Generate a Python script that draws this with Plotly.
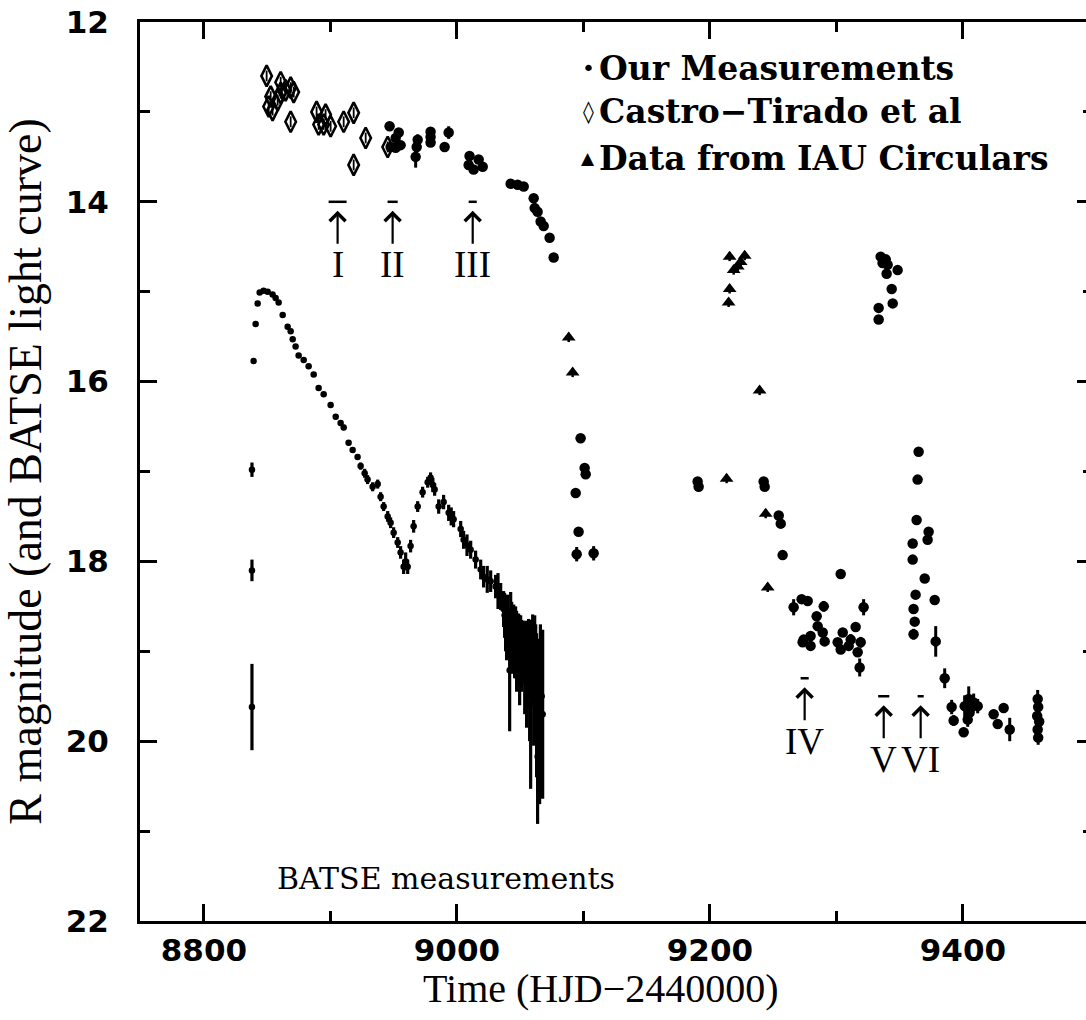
import plotly.graph_objects as go

# ---------------- data ----------------
# Castro-Tirado et al (open diamonds)
castro_t = [8849.6, 8852.8, 8851.2, 8854.3, 8860.7, 8860.7, 8864.6, 8868.6, 8871.0, 8858.3,
            8868.6, 8889.1, 8890.7, 8896.2, 8894.7, 8900.2, 8910.5, 8918.4, 8927.9, 8918.4, 8945.3]
castro_m = [12.60, 12.83, 12.94, 12.98, 12.67, 12.79, 12.76, 12.73, 12.78, 12.87,
            13.11, 13.00, 13.14, 13.03, 13.14, 13.16, 13.11, 13.01, 13.29, 13.59, 13.39]
castro_err = [0.06] * len(castro_t)

# Our measurements (filled circles)
ours_t = [8946.8, 8954.0, 8951.6, 8947.6, 8951.6, 8955.5, 8969.0, 8968.2, 8967.4, 8979.2,
          8979.2, 8979.2, 8993.5, 8990.3, 9010.0, 9009.3, 9013.2, 9017.2, 9020.4, 9042.5,
          9048.0, 9052.8, 9060.7, 9061.5, 9063.8, 9066.2, 9068.6, 9073.3, 9076.5, 9097.8,
          9101.0, 9101.8, 9093.9, 9096.2, 9094.7, 9108.1,
          9190.3, 9191.1, 9242.5, 9243.3, 9254.4, 9256.0, 9257.5, 9303.4,
          9266.2, 9272.5, 9277.3, 9290.0, 9284.4, 9285.2, 9289.2, 9274.1, 9279.6, 9273.3,
          9279.6, 9290.7, 9305.0, 9315.2, 9301.0, 9303.4, 9311.3, 9309.7, 9316.8, 9319.2,
          9318.4, 9321.5,
          9335.0, 9339.0, 9336.5, 9340.5, 9348.4, 9339.7, 9343.7, 9344.5, 9333.4, 9333.4,
          9365.0, 9364.2, 9363.4, 9372.9, 9372.1, 9360.3, 9360.3, 9369.8, 9362.6, 9377.7,
          9361.0, 9361.9, 9361.0, 9378.5,
          9385.6, 9391.1, 9392.7, 9400.6, 9401.4, 9404.6, 9406.9, 9408.5, 9411.7, 9405.3,
          9403.8, 9424.3, 9432.2, 9427.5, 9437.0, 9459.1, 9459.5, 9458.7, 9460.3, 9459.1,
          9459.5]
ours_m = [13.16, 13.23, 13.29, 13.39, 13.40, 13.37, 13.31, 13.39, 13.50, 13.22,
          13.28, 13.34, 13.23, 13.39, 13.49, 13.59, 13.64, 13.53, 13.61, 13.80,
          13.81, 13.83, 13.96, 14.07, 14.11, 14.22, 14.27, 14.40, 14.62, 16.63,
          16.96, 17.03, 17.24, 17.67, 17.92, 17.91,
          17.11, 17.17, 17.11, 17.17, 17.49, 17.58, 17.93, 18.14,
          18.51, 18.42, 18.44, 18.50, 18.61, 18.72, 18.79, 18.87, 18.83, 18.90,
          18.94, 18.89, 18.79, 18.73, 18.90, 18.98, 18.87, 18.94, 19.01, 18.90,
          19.18, 18.51,
          14.61, 14.64, 14.68, 14.70, 14.76, 14.80, 14.97, 15.13, 15.18, 15.31,
          16.78, 17.09, 17.54, 17.67, 17.76, 17.80, 17.98, 18.19, 18.37, 18.43,
          18.53, 18.67, 18.81, 18.89,
          19.30, 19.62, 19.77, 19.90, 19.61, 19.53, 19.61, 19.57, 19.61, 19.68,
          19.76, 19.70, 19.63, 19.81, 19.87, 19.53, 19.62, 19.72, 19.78, 19.87,
          19.96]
ours_err = [0, 0, 0, 0, 0, 0, 0.06, 0, 0.12, 0,
            0, 0, 0.07, 0, 0, 0, 0, 0, 0, 0,
            0, 0, 0, 0, 0, 0, 0, 0, 0, 0,
            0, 0, 0, 0, 0.08, 0.08,
            0, 0, 0, 0, 0, 0, 0, 0,
            0.09, 0, 0, 0.06, 0, 0, 0, 0, 0, 0,
            0, 0, 0, 0, 0, 0, 0.06, 0, 0, 0.06,
            0.10, 0.09,
            0, 0, 0, 0, 0, 0, 0, 0, 0, 0,
            0, 0, 0, 0, 0, 0, 0, 0, 0.05, 0,
            0, 0, 0.06, 0.17,
            0.11, 0.08, 0.06, 0.05, 0.12, 0.14, 0.10, 0.10, 0.08, 0.10,
            0.08, 0.05, 0.05, 0.05, 0.13, 0.10, 0.10, 0.12, 0.10, 0.10,
            0.08]

# Data from IAU Circulars (filled triangles)
iau_t = [9088.4, 9091.5, 9215.6, 9227.5, 9222.0, 9218.8, 9224.3, 9215.6, 9214.8, 9239.3,
         9213.2, 9244.1, 9245.7]
iau_m = [15.51, 15.90, 14.61, 14.60, 14.72, 14.76, 14.67, 14.97, 15.12, 16.10,
         17.08, 17.47, 18.29]

# BATSE light curve
batse_t = [8838.0, 8838.0, 8838.0,
           8839.3, 8840.9, 8842.5, 8844.1, 8847.2, 8850.4, 8854.3, 8856.7, 8859.1, 8862.3,
           8866.2, 8868.6, 8870.2, 8872.5, 8874.9, 8878.9, 8882.8, 8886.8, 8890.7, 8894.7,
           8900.2, 8904.2, 8908.1, 8910.5, 8914.4, 8917.6, 8921.5, 8923.9, 8927.1, 8929.4,
           8933.4, 8937.4, 8939.7, 8942.1, 8945.3, 8947.6, 8950.0, 8953.2, 8955.5, 8957.9,
           8961.1, 8963.4, 8965.8, 8969.0, 8972.9, 8976.9, 8979.2, 8982.4, 8985.6, 8989.5,
           8993.5, 8997.4, 9003.0, 9005.3, 9010.9, 9014.8, 9018.8, 9021.1, 9026.7, 9030.6,
           9034.6, 9036.9, 9038.5, 9040.1, 9041.7, 9042.5, 9043.3, 9044.9, 9046.4, 9047.2,
           9048.8, 9049.6, 9051.2, 9052.0, 9053.6, 9054.3, 9055.1, 9056.7, 9057.5, 9058.3,
           9059.9, 9060.7, 9062.3, 9063.0, 9063.8, 9064.7, 9065.4, 9066.2, 9067.0, 9067.8,
           8959.5, 8981.0, 8995.5, 9008.0, 9024.0, 9032.5, 9037.7, 9039.3, 9045.6, 9050.4,
           9061.5, 9066.0]
batse_m = [16.98, 18.10, 19.62,
           15.77, 15.36, 15.13, 15.01, 14.99, 15.00, 15.03, 15.07, 15.12, 15.26,
           15.39, 15.44, 15.53, 15.61, 15.71, 15.76, 15.83, 15.92, 16.07, 16.14,
           16.26, 16.39, 16.46, 16.51, 16.68, 16.76, 16.84, 16.94, 17.02, 17.09,
           17.17, 17.14, 17.28, 17.39, 17.50, 17.57, 17.68, 17.79, 17.90, 18.06,
           18.06, 17.83, 17.61, 17.39, 17.23, 17.12, 17.07, 17.20, 17.39, 17.34,
           17.46, 17.53, 17.64, 17.76, 17.87, 17.98, 18.09, 18.17, 18.22, 18.28,
           18.39, 18.53, 18.70, 18.72, 19.21, 18.64, 18.85, 18.83, 18.90, 19.00,
           18.98, 19.10, 19.05, 19.01, 19.20, 19.06, 19.30, 19.09, 19.40, 19.59,
           19.09, 19.35, 19.20, 19.60, 20.17, 19.46, 19.80, 19.83, 19.50, 19.70,
           18.00, 17.15, 17.50, 17.82, 18.20, 18.33, 18.60, 18.80, 19.00, 18.95,
           19.00, 19.20]
batse_err = [0.08, 0.12, 0.48,
             0.02, 0.02, 0.02, 0.02, 0.02, 0.02, 0.02, 0.02, 0.02, 0.02,
             0.02, 0.02, 0.02, 0.02, 0.02, 0.02, 0.02, 0.02, 0.02, 0.02,
             0.03, 0.03, 0.03, 0.03, 0.03, 0.03, 0.03, 0.04, 0.05, 0.05,
             0.05, 0.05, 0.05, 0.05, 0.06, 0.06, 0.06, 0.06, 0.07, 0.08,
             0.08, 0.07, 0.07, 0.06, 0.06, 0.06, 0.06, 0.07, 0.08, 0.08,
             0.09, 0.09, 0.09, 0.10, 0.10, 0.10, 0.11, 0.12, 0.12, 0.13,
             0.15, 0.20, 0.30, 0.35, 0.68, 0.30, 0.40, 0.35, 0.40, 0.45,
             0.40, 0.50, 0.40, 0.35, 0.50, 0.40, 0.55, 0.45, 0.60, 0.94,
             0.50, 0.70, 0.50, 0.80, 0.75, 0.60, 0.90, 0.80, 0.60, 0.94,
             0.10, 0.08, 0.10, 0.12, 0.15, 0.20, 0.25, 0.30, 0.30, 0.35,
             0.40, 0.50]

# Marked epochs
epoch_label = ["I", "II", "III", "IV", "V", "VI"]
epoch_t = [8905.7, 8949.2, 9012.5, 9274.9, 9337.4, 9366.6]
epoch_half = [7.1, 4.0, 3.2, 3.2, 4.4, 2.4]
epoch_m = [14.0, 14.0, 14.0, 19.3, 19.5, 19.5]

legend_symbols = ["•", "◊", "▲"]
legend_labels = ["Our Measurements", "Castro−Tirado et al", "Data from IAU Circulars"]

# ---------------- figure ----------------
BLACK = "black"
fig = go.Figure()

fig.add_trace(go.Scatter(
    x=batse_t, y=batse_m, mode="markers", name="BATSE",
    marker=dict(size=6.5, color=BLACK),
    error_y=dict(type="data", array=batse_err, color=BLACK, thickness=3.2, width=0),
    showlegend=False))

fig.add_trace(go.Scatter(
    x=castro_t, y=castro_m, mode="markers", name="Castro−Tirado et al",
    marker=dict(symbol="diamond-tall-open", size=15, color=BLACK, line=dict(width=2.6, color=BLACK)),
    error_y=dict(type="data", array=castro_err, color=BLACK, thickness=1.8, width=0),
    showlegend=False))

fig.add_trace(go.Scatter(
    x=ours_t, y=ours_m, mode="markers", name="Our Measurements",
    marker=dict(symbol="circle", size=10.5, color=BLACK),
    error_y=dict(type="data", array=ours_err, color=BLACK, thickness=3, width=0),
    showlegend=False))

fig.add_trace(go.Scatter(
    x=iau_t, y=iau_m, mode="markers", name="Data from IAU Circulars",
    marker=dict(symbol="triangle-up", size=12, color=BLACK),
    error_y=dict(type="data", array=[0.05] * len(iau_t), color=BLACK, thickness=2.5, width=0),
    showlegend=False))

# epoch dashes
fig.add_trace(go.Scatter(
    x=epoch_t, y=epoch_m, mode="markers",
    marker=dict(size=1, color="rgba(0,0,0,0)"),
    error_x=dict(type="data", array=epoch_half, color=BLACK, thickness=2.5, width=0),
    showlegend=False, hoverinfo="skip"))

# right-hand axis ticks
fig.add_trace(go.Scatter(x=[], y=[], yaxis="y2", showlegend=False, hoverinfo="skip"))

for lab, t, m in zip(epoch_label, epoch_t, epoch_m):
    fig.add_annotation(
        x=t, y=m + 0.1, xref="x", yref="y",
        ax=t, ay=m + 0.7, axref="x", ayref="y",
        text=lab, showarrow=True, arrowhead=4, arrowsize=1.4, arrowwidth=2.2,
        arrowcolor=BLACK, borderpad=0,
        font=dict(family="Liberation Serif", size=37, color=BLACK))

# legend built from text
rows_y = [0.9488, 0.8999, 0.8487]
sym_size = [22, 22, 17]
for sym, lab, yy, ss in zip(legend_symbols, legend_labels, rows_y, sym_size):
    fig.add_annotation(x=0.4736, y=yy, xref="paper", yref="paper", text=sym,
                       showarrow=False, xanchor="center", yanchor="middle",
                       font=dict(family="DejaVu Sans", size=ss, color=BLACK))
    fig.add_annotation(x=0.4830, y=yy, xref="paper", yref="paper", text=lab,
                       showarrow=False, xanchor="left", yanchor="middle",
                       font=dict(family="DejaVu Serif", size=33, color=BLACK, weight="bold"))

fig.add_annotation(x=8991.0, y=21.53, xref="x", yref="y", text="BATSE measurements",
                   showarrow=False, xanchor="center", yanchor="middle",
                   font=dict(family="DejaVu Serif", size=30, color=BLACK))

# x-axis title placed to match the original's position
fig.add_annotation(x=0.487, y=-0.075, xref="paper", yref="paper", text="Time (HJD−2440000)",
                   showarrow=False, xanchor="center", yanchor="middle",
                   font=dict(family="Liberation Serif", size=40, color=BLACK))

axis_common = dict(showgrid=False, zeroline=False, showline=True, linecolor=BLACK,
                   linewidth=3, ticks="inside", tickcolor=BLACK, tickwidth=2.5, ticklen=17,
                   tickfont=dict(family="DejaVu Sans", size=31, color=BLACK, weight="bold"))

fig.update_layout(
    width=1086, height=1020,
    margin=dict(l=140, r=0, t=22, b=99),
    paper_bgcolor="white", plot_bgcolor="white",
    xaxis=dict(range=[8749.5, 9497.3], dtick=200, tick0=8800, mirror="ticks",
               minor=dict(dtick=100, ticks="inside", ticklen=10, tickwidth=2.5, tickcolor=BLACK),
               ticklabelstandoff=0, **axis_common),
    yaxis=dict(range=[22, 12], dtick=2, tick0=12,
               minor=dict(dtick=1, ticks="inside", ticklen=10, tickwidth=2.5, tickcolor=BLACK),
               title=dict(text="R magnitude (and BATSE light curve)", standoff=12,
                          font=dict(family="Liberation Serif", size=46, color=BLACK)),
               ticklabelstandoff=22, **axis_common),
    yaxis2=dict(range=[22, 12], dtick=2, tick0=12, overlaying="y", side="right", anchor="x",
                showgrid=False, zeroline=False, showline=False, showticklabels=False,
                ticks="inside", ticklen=9, tickwidth=2.5, tickcolor=BLACK,
                minor=dict(dtick=1, ticks="inside", ticklen=3, tickwidth=2.5, tickcolor=BLACK)),
    showlegend=False,
)

fig.write_html("out.html")
